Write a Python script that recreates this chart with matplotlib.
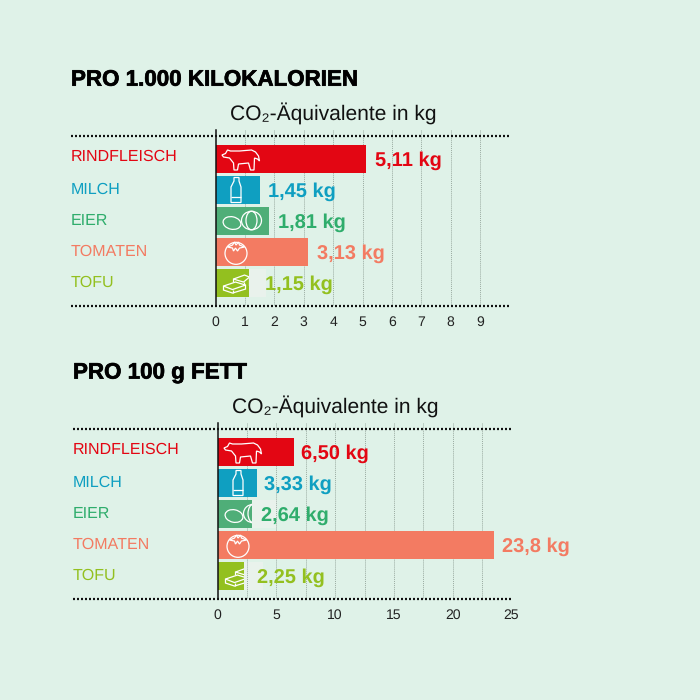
import matplotlib
matplotlib.use('Agg')
import matplotlib.pyplot as plt
import matplotlib.patheffects as pe
from matplotlib.patches import Ellipse, Circle, Polygon
from matplotlib.transforms import Affine2D

plt.rcParams['font.family'] = ['Liberation Sans', 'DejaVu Sans']
plt.rcParams['text.hinting'] = 'no_hinting'
plt.rcParams['text.hinting_factor'] = 1

categories = ['RINDFLEISCH', 'MILCH', 'EIER', 'TOMATEN', 'TOFU']
kcal_values = [5.11, 1.53, 1.81, 3.13, 1.13]
kcal_labels = ['5,11 kg', '1,45 kg', '1,81 kg', '3,13 kg', '1,15 kg']
kcal_ticks = [0, 1, 2, 3, 4, 5, 6, 7, 8, 9]
kcal_grid = [1, 2, 3, 4, 5, 6, 7, 8, 9]
fett_values = [6.5, 3.33, 2.9, 23.55, 2.25]
fett_labels = ['6,50 kg', '3,33 kg', '2,64 kg', '23,8 kg', '2,25 kg']
fett_ticks = [0, 5, 10, 15, 20, 25]
fett_grid = [2.5, 5, 7.5, 10, 12.5, 15, 17.5, 20, 22.5, 25]

BG = '#dff2e8'
bar_colors = ['#e30613', '#0f9fc1', '#4fae78', '#f37b62', '#93c01f']
text_colors = ['#e30613', '#0f9fc1', '#2fad6c', '#f37b62', '#93c01f']
HEIGHT = 700


def add_icon(ax, bar, artist, row):
    # local icon coordinates are pixels from the bar start, y pointing down
    x, y = ax.transData.transform((0, row))
    artist.set_transform(Affine2D().scale(1, -1).translate(x, y))
    ax.add_artist(artist)
    artist.set_clip_path(bar)


def outline(points, closed=True):
    return Polygon(points, closed=closed, fill=False, edgecolor='white', linewidth=0.9, zorder=5)


def draw_icons(ax, bars):
    style = dict(fill=False, edgecolor='white', linewidth=0.9, zorder=5)
    cow = [(6.5, -4), (10, -5.5), (12, -9), (15, -8), (24, -8), (36, -9), (40, -7), (43, -3), (44, 2), (42, 0),
           (39, -1), (38.5, 11), (35, 11), (33, 4), (23, 5), (22, 11), (18.5, 11), (18, 4), (14, -1), (8, -2)]
    add_icon(ax, bars[0], outline(cow), 0)
    bottle = [(18.5, -12.5), (23.5, -12.5), (23.5, -9), (25.5, -3), (25.5, 12.5), (15.5, 12.5), (15.5, -3), (18.5, -9)]
    add_icon(ax, bars[1], outline(bottle), 1)
    add_icon(ax, bars[1], outline([(15.5, 7), (25.5, 7)], closed=False), 1)
    add_icon(ax, bars[2], Ellipse((16.5, 2), 18, 12.5, angle=12, **style), 2)
    add_icon(ax, bars[2], Ellipse((36, -0.5), 20, 18.5, **style), 2)
    add_icon(ax, bars[2], Ellipse((36, -0.5), 11, 18.5, **style), 2)
    add_icon(ax, bars[3], Circle((20.5, 1.3), 11, **style), 3)
    leaf = [(12, -5), (17, -7), (19, -10), (20.5, -7), (23, -10), (24, -7), (29, -5), (24, -4), (22, -1),
            (20, -4), (18, -1), (17, -4)]
    add_icon(ax, bars[3], outline(leaf), 3)
    # lower slab, then the upper block behind it
    add_icon(ax, bars[4], outline([(8, 3), (20, -1), (30, 2), (30, 6), (17, 10), (8, 7)]), 4)
    add_icon(ax, bars[4], outline([(8, 3), (17, 6.5), (30, 2)], closed=False), 4)
    add_icon(ax, bars[4], outline([(17, 6.5), (17, 10)], closed=False), 4)
    add_icon(ax, bars[4], outline([(18, -1), (18, -4), (29, -8), (34, -6), (34, 3)], closed=False), 4)
    add_icon(ax, bars[4], outline([(18, -4), (28, -1), (34, -6)], closed=False), 4)
    add_icon(ax, bars[4], outline([(28, -1), (28, 2)], closed=False), 4)


def draw_panel(fig, left, top, xmax, values, labels, ticks, grid, title, title_x, sub_x, offsets, halos):
    # axes reach 6 px above the upper dotted line, rows are 31 px apart
    width = 294.0
    axis_top = top - 6
    axis_bottom = top + 170
    ax = fig.add_axes([left / 700, 1 - axis_bottom / HEIGHT, width / 700, (axis_bottom - axis_top) / HEIGHT])
    ax.set_facecolor('none')
    ax.set_xlim(0, xmax)
    ax.set_ylim(4.74, -0.935)

    scale = width / xmax
    for row, halo in halos.items():
        ax.barh(row, halo / scale, left=values[row], height=0.9, color='#e9f2ec', zorder=1)
    for g in grid:
        ax.axvline(g, color='#9aaba1', linewidth=0.7, linestyle=(0, (1, 1)), zorder=2)
    bars = ax.barh(range(5), values, height=0.9, color=bar_colors, zorder=3)

    for spine in ['top', 'right', 'bottom']:
        ax.spines[spine].set_visible(False)
    ax.spines['left'].set_linewidth(1.1)
    ax.spines['left'].set_color('#111111')
    ax.spines['left'].set_zorder(6)
    ax.set_yticks([])
    ax.set_xticks(ticks)
    ax.tick_params(axis='x', length=0, pad=7, labelsize=10.3, labelcolor='#222222')

    label_x = -144.5 / scale
    for y in [-0.74, 4.74]:
        ax.plot([label_x, xmax], [y, y], color='#111111', linewidth=1.6, linestyle=(0, (0.9, 0.9)),
                clip_on=False, zorder=4)
    for i, name in enumerate(categories):
        nudge = -0.07 if i == 0 else -0.01
        ax.text(label_x, i + nudge, name, color=text_colors[i], fontsize=11.7, ha='left', va='center')
        ax.annotate(labels[i], (values[i], i + 0.04), xytext=(offsets[i], 0), textcoords='offset pixels',
                    color=text_colors[i], fontsize=14.75, fontweight='bold', ha='left', va='center', zorder=7,
                    annotation_clip=False)

    fig.text(title_x / 700, 1 - (top - 56) / HEIGHT, title, fontsize=16.1, fontweight='bold', color='black',
             ha='left', va='center',
             path_effects=[pe.withStroke(linewidth=0.5, foreground='black')])
    fig.text(sub_x / 700, 1 - (top - 23) / HEIGHT, 'CO₂-Äquivalente in kg', fontsize=15.4, color='#111111',
             ha='left', va='center')
    draw_icons(ax, bars)
    return ax


def main():
    fig = plt.figure(figsize=(7, 7), dpi=100, facecolor=BG)
    draw_panel(fig, 215.5, 136, 10, kcal_values, kcal_labels, kcal_ticks, kcal_grid,
               'PRO 1.000 KILOKALORIEN', 71, 230, [9, 8, 9, 9, 16], {4: 17})
    draw_panel(fig, 217.5, 429, 25, fett_values, fett_labels, fett_ticks, fett_grid,
               'PRO 100 g FETT', 73, 232, [7, 7, 9, 8, 13], {2: 25, 4: 19})
    fig.savefig('out.png', dpi=100, facecolor=BG)


if __name__ == '__main__':
    main()
